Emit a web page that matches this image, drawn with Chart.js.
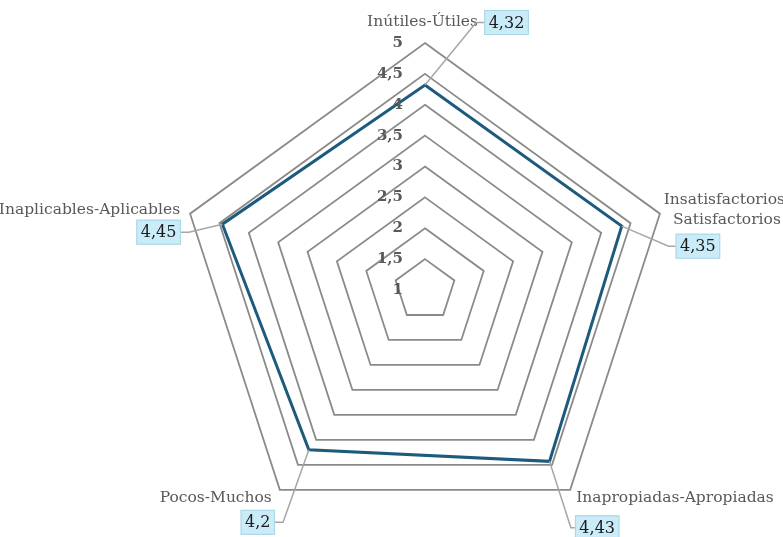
<!DOCTYPE html>
<html><head><meta charset="utf-8">
<script src="https://cdn.jsdelivr.net/npm/chart.js@4/dist/chart.umd.min.js"></script>
<style>html,body{margin:0;padding:0;background:#fff;}#wrap{width:783px;height:537px;position:relative;}</style>
</head><body><div id="wrap"><canvas id="c" width="783" height="537"></canvas></div>
<script>
const categories = ["Inútiles-Útiles", ["Insatisfactorios-", "Satisfactorios"], "Inapropiadas-Apropiadas", "Pocos-Muchos", "Inaplicables-Aplicables"];
const values = [4.32, 4.35, 4.43, 4.2, 4.45];
const valueLabels = ["4,32", "4,35", "4,43", "4,2", "4,45"];
const tickValues = [1, 1.5, 2, 2.5, 3, 3.5, 4, 4.5, 5];
const tickLabels = ["1", "1,5", "2", "2,5", "3", "3,5", "4", "4,5", "5"];

const FONT = "'DejaVu Serif', serif";
// layout of labels relative to the outer vertex of each axis
const labelLayout = [
  {dx: 53, dy: -21, align: 'right'},
  {dx: 67, dy: -14, align: 'center'},
  {dx: 6, dy: 8, align: 'left'},
  {dx: -8, dy: 8, align: 'right'},
  {dx: -10, dy: -4, align: 'right'}
];
const boxLayout = [
  {dx: 81.5, dy: -20.5, ex: 8},
  {dx: 38, dy: 32.5, ex: 7},
  {dx: 27, dy: 38, ex: 4},
  {dx: -22, dy: 32.5, ex: 8},
  {dx: -31.5, dy: 18.5, ex: 8}
];

const overlay = {
  id: 'overlay',
  afterDatasetsDraw(chart) {
    const ctx = chart.ctx;
    const s = chart.scales.r;
    const R = s.drawingArea;
    ctx.save();
    // tick labels
    ctx.font = "bold 15px " + FONT;
    ctx.fillStyle = '#595959';
    ctx.textAlign = 'right';
    ctx.textBaseline = 'middle';
    tickValues.forEach((v, k) => {
      const d = s.getDistanceFromCenterForValue(v);
      ctx.fillText(tickLabels[k], s.xCenter - 22, s.yCenter - d);
    });
    // point labels + value boxes
    categories.forEach((cat, i) => {
      const outer = s.getPointPosition(i, R);
      const L = labelLayout[i];
      ctx.font = "15.5px " + FONT;
      ctx.fillStyle = '#595959';
      ctx.textAlign = L.align;
      ctx.textBaseline = 'middle';
      const lines = Array.isArray(cat) ? cat : [cat];
      lines.forEach((t, j) => ctx.fillText(t, outer.x + L.dx, outer.y + L.dy + j * 20));
      // value box
      const B = boxLayout[i];
      const bx = outer.x + B.dx, by = outer.y + B.dy;
      ctx.font = "16px " + FONT;
      const w = ctx.measureText(valueLabels[i]).width + 9;
      const h = 25;
      const left = bx - w / 2;
      const pt = s.getPointPosition(i, s.getDistanceFromCenterForValue(values[i]));
      // leader
      const side = (i === 4 || i === 3) ? 1 : -1;
      const edgeX = side > 0 ? left + w : left;
      const elbowX = edgeX + side * B.ex;
      ctx.strokeStyle = '#a6a6a6';
      ctx.lineWidth = 1.5;
      ctx.beginPath();
      ctx.moveTo(pt.x, pt.y);
      ctx.lineTo(elbowX, by);
      ctx.lineTo(edgeX, by);
      ctx.stroke();
      ctx.fillStyle = '#c9ecf8';
      ctx.fillRect(left, by - h / 2, w, h);
      ctx.strokeStyle = '#a9d5e6';
      ctx.lineWidth = 1;
      ctx.strokeRect(left + 0.5, by - h / 2 + 0.5, w - 1, h - 1);
      ctx.fillStyle = '#1a1a1a';
      ctx.textAlign = 'center';
      ctx.fillText(valueLabels[i], bx, by + 1);
    });
    ctx.restore();
  }
};

new Chart(document.getElementById('c'), {
  type: 'radar',
  data: {
    labels: categories,
    datasets: [{
      data: values,
      borderColor: '#1d5b7c',
      borderWidth: 3,
      backgroundColor: 'rgba(0,0,0,0)',
      fill: false,
      pointRadius: 0,
      pointHoverRadius: 0
    }]
  },
  options: {
    responsive: false,
    animation: false,
    events: [],
    layout: {padding: {left: 178, right: 111, top: 43, bottom: 0}},
    plugins: {legend: {display: false}, tooltip: {enabled: false}},
    scales: {
      r: {
        min: 1, max: 5,
        ticks: {display: false, stepSize: 0.5},
        grid: {color: '#8a8a8a', lineWidth: 1.8},
        angleLines: {display: false},
        pointLabels: {display: false}
      }
    }
  },
  plugins: [overlay]
});
</script>
</body></html>
